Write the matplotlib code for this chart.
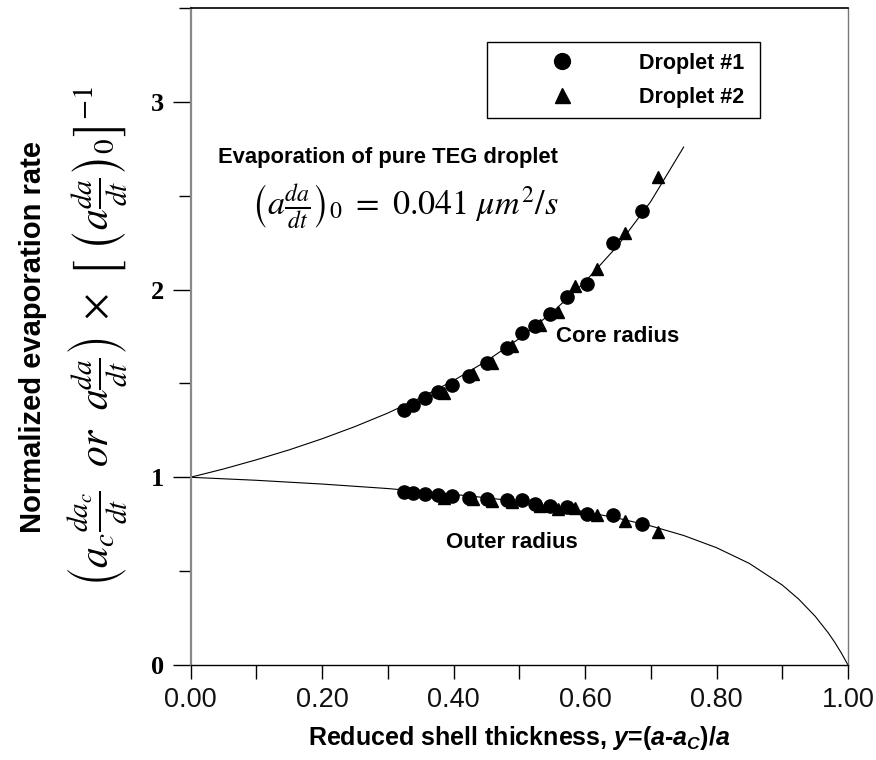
import matplotlib
matplotlib.use("Agg")
import matplotlib.pyplot as plt
from matplotlib.ticker import MultipleLocator, FormatStrFormatter

plt.rcParams['font.family'] = ['Liberation Sans', 'DejaVu Sans']
plt.rcParams['mathtext.fontset'] = 'custom'
plt.rcParams['mathtext.it'] = 'Liberation Sans:bold:italic'
plt.rcParams['mathtext.rm'] = 'Liberation Sans:bold'
plt.rcParams['mathtext.bf'] = 'Liberation Sans:bold'

# ---- data ----
# Droplet #1 (circles)
d1_y = [0.324, 0.339, 0.357, 0.377, 0.397, 0.423, 0.451, 0.481, 0.504, 0.524, 0.547, 0.572, 0.603, 0.642, 0.687]
d1_core = [1.36, 1.385, 1.42, 1.455, 1.49, 1.54, 1.61, 1.69, 1.77, 1.805, 1.87, 1.96, 2.03, 2.25, 2.42]
d1_outer = [0.92, 0.915, 0.913, 0.906, 0.899, 0.889, 0.884, 0.877, 0.878, 0.860, 0.848, 0.840, 0.805, 0.800, 0.750]
# Droplet #2 (triangles)
d2_y = [0.385, 0.430, 0.458, 0.489, 0.532, 0.559, 0.585, 0.618, 0.661, 0.711]
d2_core = [1.45, 1.55, 1.61, 1.70, 1.81, 1.88, 2.02, 2.11, 2.30, 2.60]
d2_outer = [0.89, 0.883, 0.873, 0.869, 0.847, 0.830, 0.838, 0.800, 0.765, 0.710]
# model curves
core_curve_y = [0.0, 0.05, 0.10, 0.15, 0.20, 0.25, 0.30, 0.35, 0.40, 0.45, 0.50, 0.55, 0.60, 0.65, 0.70, 0.75]
core_curve_v = [1.0, 1.044, 1.093, 1.146, 1.205, 1.270, 1.342, 1.424, 1.515, 1.619, 1.739, 1.878, 2.041, 2.235, 2.469, 2.759]
outer_curve_y = [0.0, 0.05, 0.10, 0.15, 0.20, 0.25, 0.30, 0.35, 0.40, 0.45, 0.50, 0.55, 0.60, 0.65, 0.70,
                 0.75, 0.80, 0.85, 0.90, 0.925, 0.95, 0.97, 0.98, 0.99, 1.0]
outer_curve_v = [1.0, 0.992, 0.984, 0.974, 0.964, 0.952, 0.940, 0.925, 0.909, 0.891, 0.870, 0.845, 0.816, 0.782, 0.741,
                 0.690, 0.625, 0.541, 0.426, 0.351, 0.260, 0.171, 0.120, 0.063, 0.0]
x_ticks = [0.0, 0.2, 0.4, 0.6, 0.8, 1.0]
y_ticks = [0, 1, 2, 3]
series_labels = ['Droplet #1', 'Droplet #2']

W, H = 876, 760
fig = plt.figure(figsize=(W / 100, H / 100), dpi=100)
L, R, T, B = 190.5, 848, 8, 665
ax = fig.add_axes([L / W, 1 - B / H, (R - L) / W, (B - T) / H])

ax.plot(core_curve_y, core_curve_v, color='black', lw=0.8)
ax.plot(outer_curve_y, outer_curve_v, color='black', lw=0.8)
h1, = ax.plot(d1_y, d1_core, 'o', color='black', ms=9.5, label=series_labels[0])
ax.plot(d1_y, d1_outer, 'o', color='black', ms=9.5)
h2, = ax.plot(d2_y, d2_core, '^', color='black', ms=9, label=series_labels[1])
ax.plot(d2_y, d2_outer, '^', color='black', ms=9)

ax.set_xlim(0, 1.0)
ax.set_ylim(0, 3.5)
ax.set_xticks(x_ticks)
ax.xaxis.set_major_formatter(FormatStrFormatter('%.2f'))
ax.xaxis.set_minor_locator(MultipleLocator(0.1))
ax.set_yticks(y_ticks)
ax.yaxis.set_minor_locator(MultipleLocator(0.5))
ax.tick_params(axis='x', which='both', direction='out', length=10, width=1, labelsize=19.5, pad=6)
ax.tick_params(axis='y', which='major', direction='out', length=13, width=1, pad=6)
ax.tick_params(axis='y', which='minor', direction='out', length=9, width=1)
for lab in ax.get_yticklabels():
    lab.set_fontfamily(['Liberation Serif'])
    lab.set_fontweight('bold')
    lab.set_fontsize(19)
for lab in ax.get_xticklabels():
    lab.set_color('#111111')

ax.spines['left'].set_color('#888888')
ax.spines['left'].set_linewidth(1.6)
ax.spines['right'].set_color('#777777')
ax.spines['right'].set_linewidth(1.0)
ax.spines['top'].set_linewidth(1.2)
ax.spines['bottom'].set_linewidth(1.0)

ax.set_xlabel(r'Reduced shell thickness, $y$=($a$-$a_C$)/$a$', fontsize=18, fontweight='bold', labelpad=8)

fig.text(33 / W, 1 - 337 / H, 'Normalized evaporation rate', rotation=90, ha='center', va='center',
         fontsize=21, fontweight='bold', family=['Liberation Sans Narrow', 'Liberation Sans'])
fig.text(97 / W, 1 - 336 / H,
         r'$\left(a_c\frac{da_c}{dt}\ \ or\ \ a\frac{da}{dt}\right)\ \times\ \left[\ \left(a\frac{da}{dt}\right)_0\right]^{-1}$',
         rotation=90, ha='center', va='center', fontsize=30, math_fontfamily='stix')

fig.text(218 / W, 1 - 158 / H, 'Evaporation of pure TEG droplet', ha='left', va='center', fontsize=15.8, fontweight='bold')
fig.text(251 / W, 1 - 207 / H, r'$\left(a\frac{da}{dt}\right)_0\ =\ 0.041\ \mu m^2/s$', ha='left', va='center',
         fontsize=24.5, math_fontfamily='stix')
fig.text(618 / W, 1 - 337 / H, 'Core radius', ha='center', va='center', fontsize=16, fontweight='bold')
fig.text(512 / W, 1 - 542 / H, 'Outer radius', ha='center', va='center', fontsize=16, fontweight='bold')

x0 = (487 - L) / (R - L)
x1 = (760 - L) / (R - L)
ytop = (B - 42) / (B - T)
ybot = (B - 118) / (B - T)
leg = ax.legend(handles=[h1, h2], loc='upper left', bbox_to_anchor=(x0, ybot, x1 - x0, ytop - ybot),
                mode='expand', borderaxespad=0, fancybox=False, framealpha=1, edgecolor='black',
                prop={'weight': 'bold', 'size': 15.5}, handlelength=5.97, handletextpad=0.6,
                borderpad=0.5, labelspacing=0.6, markerscale=1.2)
leg.get_frame().set_linewidth(1.0)

fig.savefig('out.png', dpi=100, facecolor='white')
